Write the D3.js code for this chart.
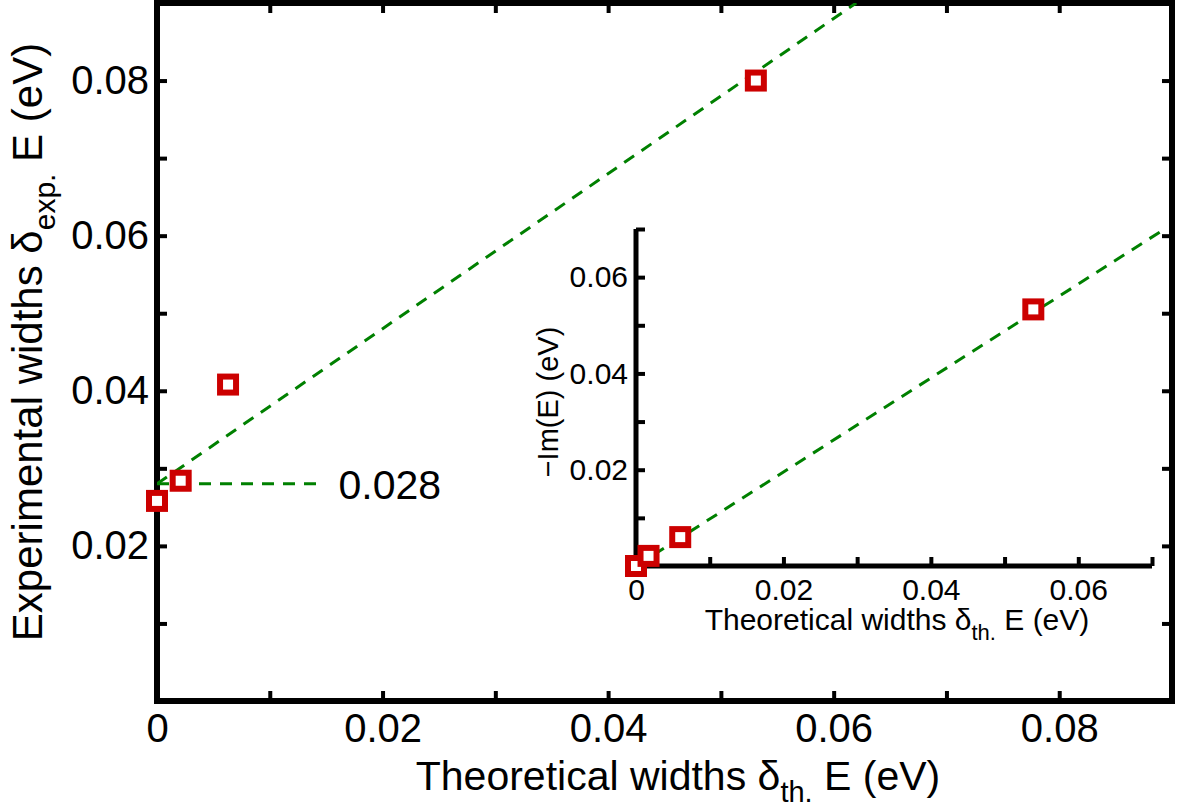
<!DOCTYPE html>
<html lang="en">
<meta charset="utf-8">
<head>
    <title>Experimental vs theoretical widths</title>
    <script src="https://d3js.org/d3.v7.min.js"></script>
    <style type="text/css">
        body { margin: 0; background: white; }
        text { font-family: "Liberation Sans", Arial, Helvetica, sans-serif; fill: #000; }
        .axis path { display: none; }
    </style>
</head>
<body>
<div id="chart"></div>
<script>
// main panel data
var mainX = [0, 0.0021, 0.0063, 0.0531];
var mainY = [0.0258, 0.0284, 0.0408, 0.0800];
var fitMainX = [0, 0.062];
var fitMainY = [0.028, 0.090];
var refX = [0, 0.0145];
var refY = [0.028, 0.028];
var refLabel = "0.028";

// inset data
var insetX = [0, 0.0017, 0.0060, 0.0539];
var insetY = [0, 0.0021, 0.0060, 0.0533];
var fitInsetX = [0, 0.0712];
var fitInsetY = [0, 0.0695];

var mainTicks = [0, 0.01, 0.02, 0.03, 0.04, 0.05, 0.06, 0.07, 0.08];
var mainLabels = [0, 0.02, 0.04, 0.06, 0.08];
var insetTicksX = [0, 0.01, 0.02, 0.03, 0.04, 0.05, 0.06, 0.07];
var insetTicksY = [0.01, 0.02, 0.03, 0.04, 0.05, 0.06, 0.07];
var insetLabelsX = [0, 0.02, 0.04, 0.06];
var insetLabelsY = [0.02, 0.04, 0.06];

var w = 1178, h = 807;
var red = "#cc0000", green = "#008000";

var svg = d3.select("#chart").append("svg")
    .attr("width", w).attr("height", h);
svg.append("rect").attr("width", w).attr("height", h).attr("fill", "white");

function fmt(d) { return d === 0 ? "0" : d3.format(".2f")(d); }
function labelOf(list) {
    return function(d) {
        return list.some(function(v) { return Math.abs(v - d) < 1e-9; }) ? fmt(d) : "";
    };
}
function styleAxis(g, size) {
    g.selectAll("line").attr("stroke", "#000").attr("stroke-width", 4);
    g.selectAll("text").style("font-size", size + "px").attr("fill", "#000");
}

//---------- main panel
var x = d3.scaleLinear().domain([0, 0.09]).range([157, 1172]);
var y = d3.scaleLinear().domain([0, 0.09]).range([701, 3]);

svg.append("clipPath").attr("id", "clipMain")
    .append("rect").attr("x", 157).attr("y", 3).attr("width", 1015).attr("height", 698);

svg.append("g").attr("class", "axis").attr("transform", "translate(0,701)")
    .call(d3.axisBottom(x).tickValues(mainTicks).tickSizeInner(-10).tickSizeOuter(0)
        .tickPadding(13).tickFormat(labelOf(mainLabels)))
    .call(styleAxis, 40);
svg.append("g").attr("class", "axis").attr("transform", "translate(0,3)")
    .call(d3.axisTop(x).tickValues(mainTicks).tickSizeInner(-10).tickSizeOuter(0).tickFormat(""))
    .call(styleAxis, 40);
svg.append("g").attr("class", "axis").attr("transform", "translate(157,0)")
    .call(d3.axisLeft(y).tickValues(mainTicks.slice(1)).tickSizeInner(-10).tickSizeOuter(0)
        .tickPadding(8).tickFormat(labelOf(mainLabels)))
    .call(styleAxis, 40);
svg.append("g").attr("class", "axis").attr("transform", "translate(1172,0)")
    .call(d3.axisRight(y).tickValues(mainTicks.slice(1)).tickSizeInner(-10).tickSizeOuter(0).tickFormat(""))
    .call(styleAxis, 40);

svg.append("rect")
    .attr("x", 157).attr("y", 3).attr("width", 1015).attr("height", 698)
    .attr("fill", "none").attr("stroke", "#000").attr("stroke-width", 6);

var line = d3.line();
svg.append("path").attr("clip-path", "url(#clipMain)")
    .attr("d", line(fitMainX.map(function(d, i) { return [x(d), y(fitMainY[i])]; })))
    .attr("fill", "none").attr("stroke", green).attr("stroke-width", 3)
    .attr("stroke-dasharray", "12,9");
svg.append("path")
    .attr("d", line(refX.map(function(d, i) { return [x(d), y(refY[i])]; })))
    .attr("fill", "none").attr("stroke", green).attr("stroke-width", 3)
    .attr("stroke-dasharray", "12,9");
svg.append("text").attr("x", x(refX[1]) + 18).attr("y", y(0.028)).attr("dy", "0.36em")
    .style("font-size", "41px").text(refLabel);

svg.selectAll(".mainpt").data(mainX).enter().append("rect")
    .attr("class", "mainpt")
    .attr("x", function(d) { return x(d) - 8; })
    .attr("y", function(d, i) { return y(mainY[i]) - 8; })
    .attr("width", 16).attr("height", 16)
    .attr("fill", "white").attr("stroke", red).attr("stroke-width", 6);

var xl = svg.append("text").attr("x", 678).attr("y", 790).attr("text-anchor", "middle")
    .style("font-size", "41px");
xl.append("tspan").text("Theoretical widths \u03b4");
xl.append("tspan").attr("dy", 12).style("font-size", "29px").text("th.");
xl.append("tspan").attr("dy", -12).text(" E (eV)");

var yl = svg.append("text").attr("transform", "translate(42,342) rotate(-90)")
    .attr("text-anchor", "middle").style("font-size", "42px");
yl.append("tspan").text("Experimental widths \u03b4");
yl.append("tspan").attr("dy", 13).style("font-size", "30px").text("exp.");
yl.append("tspan").attr("dy", -13).text(" E (eV)");

//---------- inset
var ix = d3.scaleLinear().domain([0, 0.07]).range([636, 1152]);
var iy = d3.scaleLinear().domain([0, 0.07]).range([566, 229]);

svg.append("g").attr("class", "axis").attr("transform", "translate(0,566)")
    .call(d3.axisBottom(ix).tickValues(insetTicksX).tickSizeInner(-9).tickSizeOuter(0)
        .tickPadding(13).tickFormat(labelOf(insetLabelsX)))
    .call(styleAxis, 30);
svg.append("g").attr("class", "axis").attr("transform", "translate(636,0)")
    .call(d3.axisLeft(iy).tickValues(insetTicksY).tickSizeInner(-9).tickSizeOuter(0)
        .tickPadding(8).tickFormat(labelOf(insetLabelsY)))
    .call(styleAxis, 30);

svg.append("path")
    .attr("d", "M636,229V566H1152")
    .attr("fill", "none").attr("stroke", "#000").attr("stroke-width", 5);

svg.append("path")
    .attr("d", line(fitInsetX.map(function(d, i) { return [ix(d), iy(fitInsetY[i])]; })))
    .attr("fill", "none").attr("stroke", green).attr("stroke-width", 3)
    .attr("stroke-dasharray", "12,9");

svg.selectAll(".insetpt").data(insetX).enter().append("rect")
    .attr("class", "insetpt")
    .attr("x", function(d) { return ix(d) - 8; })
    .attr("y", function(d, i) { return iy(insetY[i]) - 8; })
    .attr("width", 16).attr("height", 16)
    .attr("fill", "white").attr("stroke", red).attr("stroke-width", 6);

var ixl = svg.append("text").attr("x", 897).attr("y", 630).attr("text-anchor", "middle")
    .style("font-size", "30px");
ixl.append("tspan").text("Theoretical widths \u03b4");
ixl.append("tspan").attr("dy", 10).style("font-size", "22px").text("th.");
ixl.append("tspan").attr("dy", -10).text(" E (eV)");

svg.append("text").attr("transform", "translate(558,402) rotate(-90)")
    .attr("text-anchor", "middle").style("font-size", "29px")
    .text("\u2212Im(E) (eV)");
</script>
</body>
</html>
